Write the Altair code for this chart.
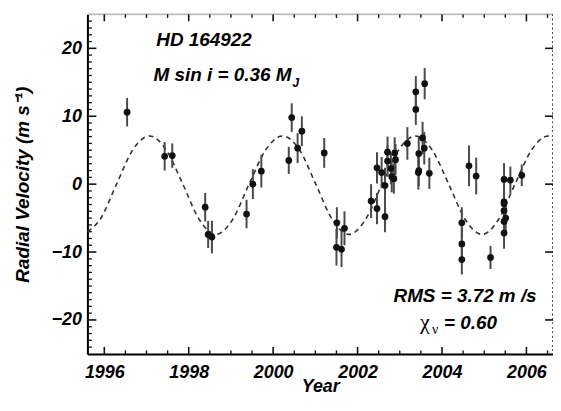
import altair as alt
import pandas as pd

years = [1996.54, 1997.43, 1997.61, 1998.39, 1998.46, 1998.55, 1999.37, 1999.52, 1999.72,
         2000.37, 2000.44, 2000.58, 2000.68, 2001.21, 2001.51, 2001.50, 2001.62, 2001.69,
         2002.32, 2002.46, 2002.65, 2002.46, 2002.57, 2002.65, 2002.71, 2002.71, 2002.79, 2002.81,
         2002.88, 2002.90, 2002.86, 2003.18, 2003.38, 2003.38, 2003.59, 2003.45, 2003.54, 2003.58,
         2003.44, 2003.45, 2003.70, 2004.47, 2004.47, 2004.47, 2004.64, 2004.81, 2005.15,
         2005.47, 2005.47, 2005.47, 2005.47, 2005.51, 2005.47, 2005.47, 2005.62, 2005.89]
rv = [10.6, 4.1, 4.2, -3.4, -7.4, -7.8, -4.4, 0.0, 1.9,
      3.5, 9.8, 5.3, 7.8, 4.6, -5.7, -9.3, -9.6, -6.5,
      -2.5, -3.6, -4.8, 2.4, 1.7, -0.2, 4.7, 3.4, 2.3, 1.1,
      4.6, 3.6, 0.8, 6.0, 13.6, 11.0, 14.8, 4.5, 6.8, 5.3,
      1.7, 2.0, 1.6, -5.7, -8.8, -11.1, 2.7, 1.2, -10.8,
      0.7, -2.6, -2.9, -3.9, -5.0, -5.5, -7.2, 0.6, 1.3]
err = [2.1, 2.1, 1.8, 2.1, 2.0, 2.4, 2.1, 2.2, 2.4,
       2.0, 2.1, 2.2, 2.2, 2.2, 2.3, 2.7, 2.6, 2.5,
       2.5, 2.3, 2.3, 2.3, 2.3, 2.6, 2.3, 2.3, 2.3, 2.3,
       2.3, 2.3, 2.2, 2.4, 2.3, 2.3, 2.3, 2.5, 2.4, 2.4,
       2.5, 2.3, 2.3, 2.3, 2.3, 2.2, 3.0, 2.7, 1.7,
       2.4, 2.3, 2.3, 2.3, 2.3, 2.3, 2.3, 2.0, 1.6]

# ---- Keplerian fit curve ----
fit_years = [1995.60, 1995.90, 1996.29, 1996.68, 1997.07, 1997.46, 1997.86, 1998.25,
             1998.65, 1999.04, 1999.43, 1999.83, 2000.22, 2000.62, 2001.01, 2001.40,
             2001.80, 2002.19, 2002.58, 2002.98, 2003.37, 2003.76, 2004.16, 2004.55,
             2004.95, 2005.34, 2005.73, 2006.13, 2006.52, 2006.63]
fit_rv = [-7.0, -5.2, 0.0, 5.1, 7.1, 5.1, 0.0, -5.2,
          -7.4, -5.2, 0.0, 5.1, 7.1, 5.1, 0.0, -5.2,
          -7.4, -5.2, 0.0, 5.1, 7.1, 5.1, 0.0, -5.2,
          -7.4, -5.2, 0.0, 5.1, 7.1, 7.0]

# ---- axis ticks ----
x_major = [1996, 1998, 2000, 2002, 2004, 2006]
x_minor = [1996.5, 1997, 1997.5, 1998.5, 1999, 1999.5, 2000.5, 2001, 2001.5,
           2002.5, 2003, 2003.5, 2004.5, 2005, 2005.5, 2006.5]
y_major = [-20, -10, 0, 10, 20]
y_minor = [-24, -23, -22, -21, -19, -18, -17, -16, -15, -14, -13, -12, -11,
           -9, -8, -7, -6, -5, -4, -3, -2, -1, 1, 2, 3, 4, 5, 6, 7, 8, 9,
           11, 12, 13, 14, 15, 16, 17, 18, 19, 21, 22, 23, 24]

# ---- texts ----
star_label = "HD 164922"
mass_label = "M sin i = 0.36 M"
mass_sub = "J"
rms_label = "RMS = 3.72 m /s"
chi_sym = "χ"
chi_sub = "ν"
chi_val = "= 0.60"
x_title = "Year"
y_title = "Radial Velocity  (m s⁻¹)"

W, H = 469, 342
FONT = "Liberation Sans"

obs = pd.DataFrame({"year": years, "rv": rv, "err": err})
obs["lo"] = obs["rv"] - obs["err"]
obs["hi"] = obs["rv"] + obs["err"]
fit = pd.DataFrame({"year": fit_years, "rv": fit_rv})

x_scale = alt.Scale(domain=[1995.6, 2006.63], nice=False, zero=False)
y_scale = alt.Scale(domain=[-25, 25], nice=False, zero=False)

x_axis = alt.Axis(values=x_major, format="d", ticks=False, grid=False,
                  domainColor="black", domainWidth=2,
                  labelFont=FONT, labelFontSize=18, labelFontWeight="bold",
                  labelFontStyle="italic", labelColor="black", labelPadding=10,
                  labelFlush=False, labelOverlap=False,
                  title=x_title, titleFont=FONT, titleFontSize=18,
                  titleFontWeight="bold", titleFontStyle="italic",
                  titleColor="black", titlePadding=-4)
y_axis = alt.Axis(values=y_major, format="d", ticks=False, grid=False,
                  domainColor="black", domainWidth=2,
                  labelFont=FONT, labelFontSize=18, labelFontWeight="bold",
                  labelFontStyle="italic", labelColor="black", labelPadding=6,
                  labelFlush=False, labelOverlap=False,
                  title=y_title, titleFont=FONT, titleFontSize=19,
                  titleFontWeight="bold", titleFontStyle="italic",
                  titleColor="black", titleX=-55, titleY=H / 2,
                  titleAngle=270, titleAlign="center", titleBaseline="bottom")

X = alt.X("year:Q", scale=x_scale, axis=x_axis)
Y = alt.Y("rv:Q", scale=y_scale, axis=y_axis)

curve = alt.Chart(fit).mark_line(
    color="#333333", strokeDash=[5, 4], strokeWidth=1.6, interpolate="monotone"
).encode(x=X, y=Y)

bars = alt.Chart(obs).mark_rule(color="#4a4a4a", strokeWidth=2).encode(
    x=X, y=alt.Y("lo:Q", scale=y_scale, axis=y_axis), y2="hi:Q")

pts = alt.Chart(obs).mark_point(filled=True, color="#111111", size=46, opacity=1).encode(
    x=X, y=Y)

# inward ticks
xmaj = pd.DataFrame({"year": x_major})
xmin = pd.DataFrame({"year": x_minor})
ymaj = pd.DataFrame({"rv": y_major})
ymin = pd.DataFrame({"rv": y_minor})

tick_color = "#111111"
t_bottom_maj = alt.Chart(xmaj).mark_rule(color=tick_color, strokeWidth=1.6).encode(
    x=X, y=alt.value(H), y2=alt.value(H - 7))
t_bottom_min = alt.Chart(xmin).mark_rule(color=tick_color, strokeWidth=1.4).encode(
    x=X, y=alt.value(H), y2=alt.value(H - 3.5))
t_top_maj = alt.Chart(xmaj).mark_rule(color=tick_color, strokeWidth=1.6).encode(
    x=X, y=alt.value(0), y2=alt.value(7))
t_top_min = alt.Chart(xmin).mark_rule(color=tick_color, strokeWidth=1.4).encode(
    x=X, y=alt.value(0), y2=alt.value(3.5))
t_left_maj = alt.Chart(ymaj).mark_rule(color=tick_color, strokeWidth=1.6).encode(
    y=Y, x=alt.value(0), x2=alt.value(9))
t_left_min = alt.Chart(ymin).mark_rule(color=tick_color, strokeWidth=1.3).encode(
    y=Y, x=alt.value(0), x2=alt.value(4.5))
t_right_maj = alt.Chart(ymaj).mark_rule(color=tick_color, strokeWidth=1.6).encode(
    y=Y, x=alt.value(W), x2=alt.value(W - 8))

frame_top = alt.Chart(xmaj).mark_rule(color="#bbbbbb", strokeWidth=1).encode(
    x=alt.value(0), x2=alt.value(W), y=alt.value(0))
frame_right = alt.Chart(xmaj).mark_rule(color="#555555", strokeWidth=1.5,
                                         strokeDash=[1.5, 3]).encode(
    x=alt.value(W), y=alt.value(0), y2=alt.value(H))


def label(text, x, y, size=19, align="left", font=FONT, style="italic",
          weight="bold"):
    return alt.Chart(pd.DataFrame({"t": [text]})).mark_text(
        font=font, fontSize=size, fontStyle=style, fontWeight=weight,
        align=align, baseline="alphabetic", color="black"
    ).encode(text="t:N", x=alt.value(x), y=alt.value(y))


texts = [
    label(star_label, 117.5, 32, align="center"),
    label(mass_label, 205.5, 67, align="right"),
    label(mass_sub, 206.5, 73, size=12),
    label(rms_label, 452.5, 290, align="right"),
    label(chi_val, 412.5, 317, align="right"),
    label(chi_sym, 335, 317, size=22, font="Liberation Serif", style="normal", weight="normal"),
    label(chi_sub, 347, 322, size=14, font="Liberation Serif", style="normal", weight="normal"),
]

chart = alt.layer(
    frame_top, frame_right,
    t_bottom_maj, t_bottom_min, t_top_maj, t_top_min,
    t_left_maj, t_left_min, t_right_maj,
    curve, bars, pts, *texts
).properties(
    width=W, height=H,
    autosize=alt.AutoSizeParams(type="none"),
    padding={"left": 80, "top": 5, "right": 0, "bottom": 44},
).configure_view(stroke=None).configure(background="white")

chart.save("out.html", embed_options={"renderer": "svg", "actions": False})
